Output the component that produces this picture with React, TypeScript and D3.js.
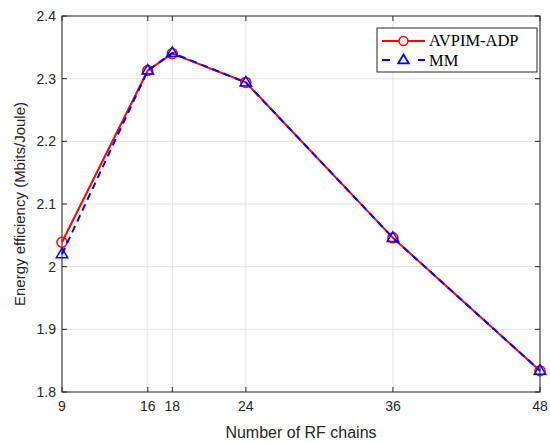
import React from "react";
import * as d3 from "d3";

const xTicks = [9, 16, 18, 24, 36, 48];
const yTicks = [1.8, 1.9, 2.0, 2.1, 2.2, 2.3, 2.4];
const rfChains = [9, 16, 18, 24, 36, 48];
const avpimAdp = [2.039, 2.313, 2.34, 2.294, 2.046, 1.834];
const mm = [2.02, 2.313, 2.341, 2.294, 2.046, 1.834];

const W = 550, H = 443;
const L = 62, R = 540, T = 16, B = 392;

export default function App() {
  const x = d3.scaleLinear().domain([9, 48]).range([L, R]);
  const y = d3.scaleLinear().domain([1.8, 2.4]).range([B, T]);
  const line = d3.line<number>().x((_, i) => x(rfChains[i])).y((d) => y(d));
  const tri = (cx: number, cy: number, s: number) =>
    `M${cx},${cy - s}L${cx + s * 0.95},${cy + s * 0.6}L${cx - s * 0.95},${cy + s * 0.6}Z`;
  const font = "Liberation Sans, Arial, sans-serif";
  const axisColor = "#262626";
  return (
    <svg width={W} height={H} style={{ position: "absolute", left: 0, top: 0, background: "#fff" }}>
      <rect x={0} y={0} width={W} height={H} fill="#fff" />
      {xTicks.map((t) => (
        <line key={"gx" + t} x1={x(t)} x2={x(t)} y1={T} y2={B} stroke="#e3e3e3" strokeWidth={1} />
      ))}
      {yTicks.map((t) => (
        <line key={"gy" + t} x1={L} x2={R} y1={y(t)} y2={y(t)} stroke="#e3e3e3" strokeWidth={1} />
      ))}
      <rect x={L} y={T} width={R - L} height={B - T} fill="none" stroke={axisColor} strokeWidth={1} />
      {xTicks.map((t) => (
        <g key={"tx" + t}>
          <line x1={x(t)} x2={x(t)} y1={B} y2={B - 5} stroke={axisColor} />
          <line x1={x(t)} x2={x(t)} y1={T} y2={T + 5} stroke={axisColor} />
          <text x={x(t)} y={B + 19} textAnchor="middle" fontFamily={font} fontSize={14} fill={axisColor}>
            {t}
          </text>
        </g>
      ))}
      {yTicks.map((t) => (
        <g key={"ty" + t}>
          <line x1={L} x2={L + 5} y1={y(t)} y2={y(t)} stroke={axisColor} />
          <line x1={R} x2={R - 5} y1={y(t)} y2={y(t)} stroke={axisColor} />
          <text x={L - 6} y={y(t) + 5} textAnchor="end" fontFamily={font} fontSize={14} fill={axisColor}>
            {d3.format(".1f")(t).replace(/\.0$/, "")}
          </text>
        </g>
      ))}
      <text x={(L + R) / 2} y={438} textAnchor="middle" fontFamily={font} fontSize={16} fill={axisColor}>
        Number of RF chains
      </text>
      <text
        transform={`translate(25,${(T + B) / 2}) rotate(-90)`}
        textAnchor="middle"
        fontFamily={font}
        fontSize={15}
        fill={axisColor}
      >
        Energy efficiency (Mbits/Joule)
      </text>
      <path d={line(avpimAdp) || ""} fill="none" stroke="#ff0000" strokeWidth={2} />
      {avpimAdp.map((v, i) => (
        <circle key={"c" + i} cx={x(rfChains[i])} cy={y(v)} r={5} fill="none" stroke="#ff0000" strokeWidth={1.5} />
      ))}
      <path d={line(mm) || ""} fill="none" stroke="#0000ff" strokeWidth={2} strokeDasharray="7,5" />
      {mm.map((v, i) => (
        <path key={"t" + i} d={tri(x(rfChains[i]), y(v), 6)} fill="none" stroke="#0000ff" strokeWidth={1.5} />
      ))}
      <g>
        <rect x={377} y={28} width={160} height={44} fill="#fff" stroke={axisColor} strokeWidth={1} />
        <line x1={382} x2={425} y1={41} y2={41} stroke="#ff0000" strokeWidth={2} />
        <circle cx={403.5} cy={41} r={4.5} fill="#fff" stroke="#ff0000" strokeWidth={1.5} />
        <text x={429} y={46} fontFamily="Liberation Serif, Times New Roman, serif" fontSize={16.5} fill="#000">
          AVPIM-ADP
        </text>
        <line x1={382} x2={425} y1={60} y2={60} stroke="#0000ff" strokeWidth={2} strokeDasharray="8,28" />
        <path d={tri(403.5, 60, 5.5)} fill="#fff" stroke="#0000ff" strokeWidth={1.8} />
        <text x={429} y={66} fontFamily="Liberation Serif, Times New Roman, serif" fontSize={16.5} fill="#000">
          MM
        </text>
      </g>
    </svg>
  );
}
